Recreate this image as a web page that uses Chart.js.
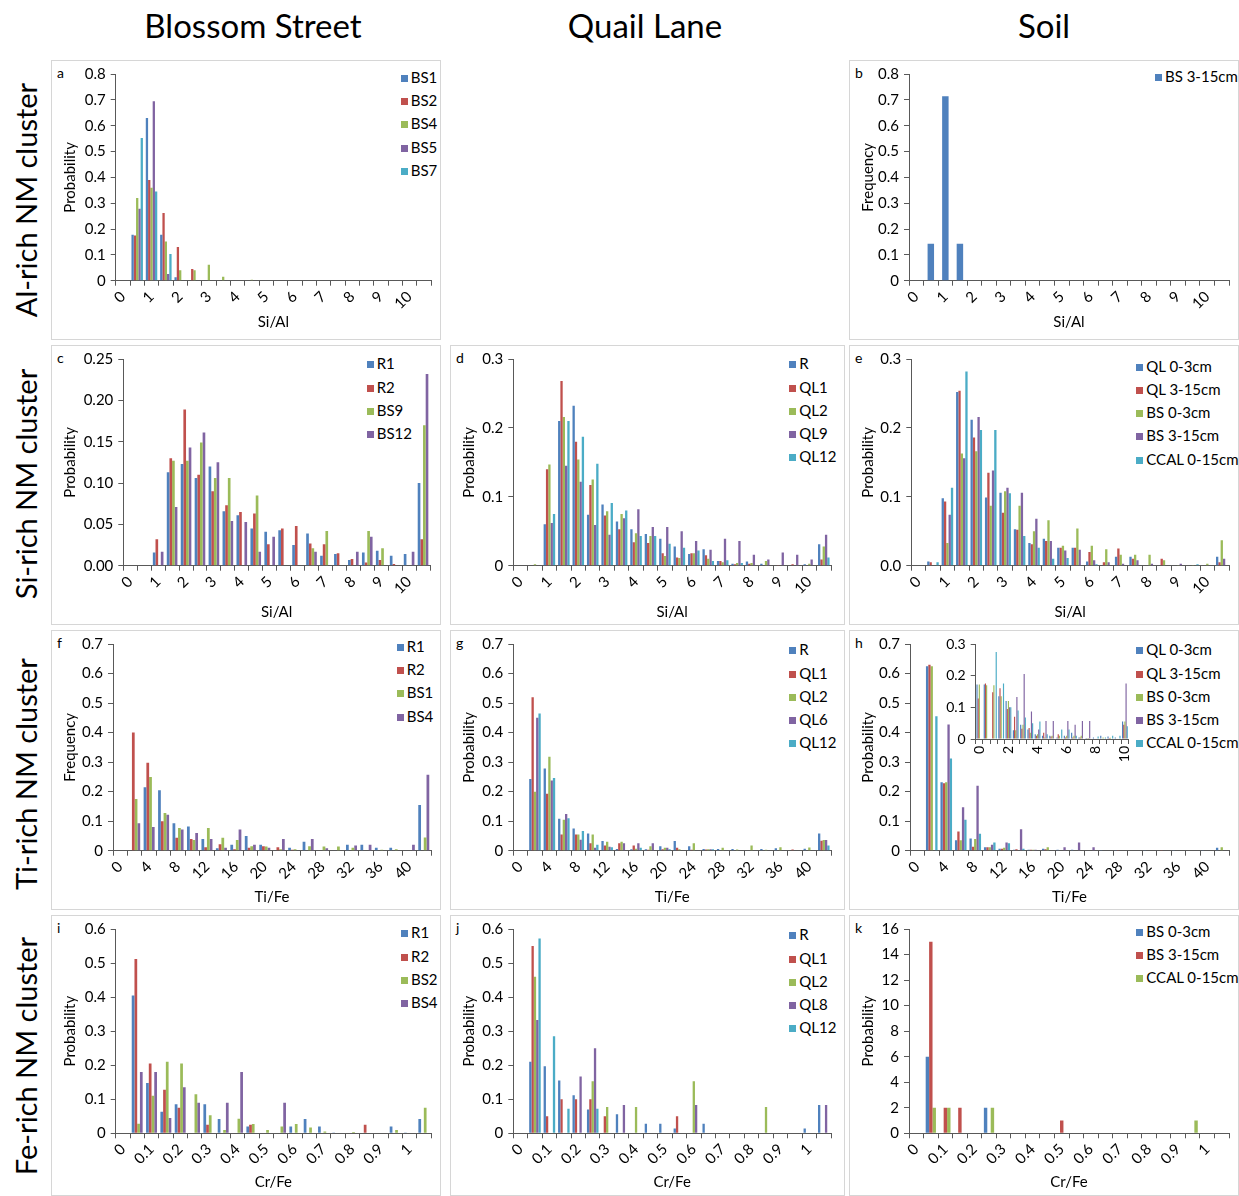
<!DOCTYPE html>
<html>
<head>
<meta charset="utf-8">
<script src="https://cdn.jsdelivr.net/npm/chart.js@4.4.1/dist/chart.umd.min.js"></script>
<style>
body { margin: 0; background: #fff; font-family: Lato, sans-serif; color: #000; }
#page { position: relative; width: 1239px; height: 1196px; overflow: hidden; }
.col-title { position: absolute; top: 5px; font-size: 33px; transform: translateX(-50%); white-space: nowrap; }
.row-title { position: absolute; left: 25px; font-size: 29px; white-space: nowrap; transform: translate(-50%, -50%) rotate(-90deg); }
.panel { position: absolute; box-shadow: inset 0 0 0 1px #d6d6d6; }
.panel canvas { position: absolute; left: 0; top: 0; }
.letter { position: absolute; font-size: 14px; line-height: 16px; }
.leg { position: absolute; font-size: 15px; line-height: 16px; white-space: nowrap; }
.leg span { display: inline-block; width: 7px; height: 7px; margin-right: 3px; vertical-align: 1px; }
</style>
</head>
<body>
<div id="page">
  <div class="col-title" style="left:253px">Blossom Street</div>
  <div class="col-title" style="left:645px">Quail Lane</div>
  <div class="col-title" style="left:1044px">Soil</div>
  <div class="row-title" style="top:200px">Al-rich NM cluster</div>
  <div class="row-title" style="top:484px">Si-rich NM cluster</div>
  <div class="row-title" style="top:774px">Ti-rich NM cluster</div>
  <div class="row-title" style="top:1056px">Fe-rich NM cluster</div>
</div>
<script>
const COLORS = ['#4F81BD', '#C0504D', '#9BBB59', '#8064A2', '#4BACC6'];
const AXIS = '#595959';
const FONT = 'Lato';
const GAP = 1.25; // excel gap width

// category labels
const siAlCats = ['0','0.5','1','1.5','2','2.5','3','3.5','4','4.5','5','5.5','6','6.5','7','7.5','8','8.5','9','9.5','10','10.5'];
const tiFeCats = ['0','2','4','6','8','10','12','14','16','18','20','22','24','26','28','30','32','34','36','38','40','42'];
const crFeCats = ['0','0.05','0.1','0.15','0.2','0.25','0.3','0.35','0.4','0.45','0.5','0.55','0.6','0.65','0.7','0.75','0.8','0.85','0.9','0.95','1','1.05'];
const insetCats = ['0','0.5','1','1.5','2','2.5','3','3.5','4','4.5','5','5.5','6','6.5','7','7.5','8','8.5','9','9.5','10'];

// a - Al-rich, Blossom Street
const aNames = ['BS1', 'BS2', 'BS4', 'BS5', 'BS7'];
const aBS1 = [0,.178,.63,.178,.013,0,0,0,0,0,0,0,0,0,0,0,0,0,0,0,0,0];
const aBS2 = [0,.175,.39,.262,.13,.045,0,0,0,0,0,0,0,0,0,0,0,0,0,0,0,0];
const aBS4 = [0,.32,.36,.152,.04,.04,.062,.015,0,.004,0,0,0,0,0,0,0,0,0,0,0,0];
const aBS5 = [0,.278,.695,.026,0,0,0,0,0,0,0,0,0,0,0,0,0,0,0,0,0,0];
const aBS7 = [0,.552,.345,.103,0,0,0,0,0,0,0,0,0,0,0,0,0,0,0,0,0,0];

// b - Al-rich, soil
const bNames = ['BS 3-15cm'];
const bBS315 = [0,.143,.714,.143,0,0,0,0,0,0,0,0,0,0,0,0,0,0,0,0,0,0];

// c - Si-rich, Blossom Street
const cNames = ['R1', 'R2', 'BS9', 'BS12'];
const cR1 = [0,0,.016,.113,.123,.106,.12,.066,.061,.045,.041,.043,.025,.039,.012,.014,.007,.016,.018,.012,.014,.10];
const cR2 = [0,0,.032,.13,.189,.11,.09,.073,.065,.063,.026,.045,.048,.027,.026,.015,.008,.004,.007,.002,0,.032];
const cBS9 = [0,0,0,.127,.127,.149,.106,.106,0,.085,0,0,0,.021,.042,0,0,.042,.021,0,0,.17];
const cBS12 = [0,0,.017,.071,.143,.161,.125,.054,.053,.017,.035,0,0,.017,0,0,.017,.035,0,0,.017,.232];

// d - Si-rich, Quail Lane
const dNames = ['R', 'QL1', 'QL2', 'QL9', 'QL12'];
const dR = [0,0,.06,.21,.232,.074,.089,.064,.053,.046,.039,.028,.017,.024,.007,.003,.006,.003,0,0,.002,.031];
const dQL1 = [0,0,.14,.268,.18,.117,.073,.053,.034,.033,.018,.012,.018,.015,.007,.002,.003,0,.001,.002,0,.009];
const dQL2 = [0,.002,.147,.216,.154,.125,.079,.075,.047,.043,.014,.011,.018,.01,.005,.004,.004,.007,0,0,.003,.028];
const dQL9 = [0,0,.062,.145,.122,.059,.045,.069,.082,.056,.056,.05,.036,.023,.039,.036,.016,.009,.019,.016,.009,.045];
const dQL12 = [0,0,.075,.21,.187,.148,.091,.08,.043,.043,.032,.026,.022,.007,.008,.004,0,0,0,0,0,.012];

// e - Si-rich, soil
const soilNames = ['QL 0-3cm', 'QL 3-15cm', 'BS 0-3cm', 'BS 3-15cm', 'CCAL 0-15cm'];
const eQL03 = [0,.006,.098,.252,.212,.099,.106,.053,.033,.039,.026,.026,.006,0,.013,.013,0,0,0,0,0,.013];
const eQL315 = [0,.005,.093,.254,.186,.135,.077,.052,.031,.036,.026,.026,.02,.005,.025,.01,0,.01,0,0,0,.005];
const eBS03 = [0,0,.033,.163,.166,.087,.108,.087,.05,.066,.029,.054,.029,.024,.016,.016,.016,.008,.001,.001,.003,.037];
const eBS315 = [0,0,.074,.156,.216,.138,.113,.106,.068,.036,.022,.023,.008,.005,.003,.008,.003,0,.003,0,0,.01];
const eCCAL = [0,.005,.113,.282,.197,.197,.105,.043,.026,.01,.011,0,.002,0,0,0,0,0,0,.002,0,0];

// f - Ti-rich, Blossom Street
const fNames = ['R1', 'R2', 'BS1', 'BS4'];
const fR1 = [0,0,.215,.205,.093,.082,.04,.008,.02,.05,.02,0,.01,.03,0,0,.02,.02,.01,.01,0,.155];
const fR2 = [0,.40,.298,.10,.044,.04,.012,.022,.005,.01,.015,.012,.003,0,0,0,0,0,0,0,0,0];
const fBS1 = [0,.175,.25,.128,.077,.036,.077,.044,.036,.015,.014,.005,.005,.015,.014,.014,.01,0,.003,.005,0,.045];
const fBS4 = [0,.093,.08,.122,.072,.06,.04,.01,.072,.02,.01,.04,0,.04,.008,0,.018,.02,0,0,.02,.257];

// g - Ti-rich, Quail Lane
const gNames = ['R', 'QL1', 'QL2', 'QL6', 'QL12'];
const gR = [0,.243,.278,.108,.075,.058,.033,.006,.005,.005,.015,.033,.015,.006,.006,.006,0,.006,.008,0,.007,.058];
const gQL1 = [0,.52,.193,.055,.055,.025,.018,.025,.018,.003,.005,.01,.003,.004,0,0,0,0,0,.004,0,.034];
const gQL2 = [0,.2,.318,.105,.055,.055,.03,.03,.007,.015,.01,.005,.025,.005,.01,.004,.018,.003,.012,0,.011,.036];
const gQL6 = [0,.45,.238,.124,.037,.01,.013,.025,.025,.025,.01,0,0,.005,0,0,0,0,0,0,0,.036];
const gQL12 = [0,.465,.246,.11,.067,.02,.012,0,.01,0,.005,0,0,.005,0,0,0,0,0,0,0,.018];

// h - Ti-rich, soil
const hQL03 = [0,.625,.232,.035,.041,.012,.007,.003,.003,.007,.003,.003,0,.001,.001,0,.001,0,.001,0,.001,.01];
const hQL315 = [0,.63,.228,.065,.013,.012,.007,.005,.003,.005,0,0,0,0,.001,0,0,.001,0,0,0,0];
const hBS03 = [0,.625,.232,.035,.04,.012,.01,0,.003,.012,0,0,0,0,0,0,0,0,0,0,0,.012];
const hBS315 = [0,0,.427,.147,.22,.02,.028,.073,.003,0,.012,.028,.012,0,0,0,0,0,0,0,0,0];
const hCCAL = [0,.455,.312,.105,.057,.028,.025,.007,0,0,0,0,0,0,0,0,0,0,0,0,0,0];

// h inset (Ti/Fe 0-10)
const hiQL03 = [.172,.172,0,.135,.12,.028,.045,.03,.015,.01,.01,.005,.01,.02,.005,.003,.005,.01,.008,.005,.055];
const hiQL315 = [.128,.175,.148,.16,.095,.07,.032,.035,.01,.02,.008,.015,.005,.005,.005,.002,0,0,.003,0,.045];
const hiBS03 = [.172,.17,.17,.135,.12,.028,.045,.02,.015,.005,.01,.01,.01,.01,.01,.003,0,.005,.004,0,.055];
const hiBS315 = [0,0,0,0,.1,.133,.205,.087,.03,.057,.057,0,.057,.045,.057,.057,0,0,0,0,.175];
const hiCCAL = [0,0,.275,.175,.10,.09,.068,.05,.055,.015,0,.03,.03,.01,0,0,.008,.005,.01,.01,.04];

// i - Fe-rich, Blossom Street
const iNames = ['R1', 'R2', 'BS2', 'BS4'];
const iR1 = [0,.405,.148,.063,.085,0,.085,.042,0,.02,0,0,.02,.042,.02,.002,0,0,0,.02,.002,.042];
const iR2 = [0,.512,.205,.128,.075,0,.025,0,0,.025,0,0,0,0,0,0,0,.025,0,0,0,0];
const iBS2 = [0,.028,.11,.21,.205,.115,.053,.01,.043,.027,.01,.02,.027,.017,.005,0,.004,0,0,.01,0,.075];
const iBS4 = [0,.18,.18,.045,.135,.09,0,.09,.18,0,0,.09,0,0,0,0,0,0,0,0,0,0];

// j - Fe-rich, Quail Lane
const jNames = ['R', 'QL1', 'QL2', 'QL8', 'QL12'];
const jR = [0,.21,.197,.155,.112,.07,0,.056,0,.028,.028,.014,0,.028,0,0,0,0,0,0,.014,.083];
const jQL1 = [0,.55,.05,.1,.1,.1,.05,0,0,0,0,.05,0,0,0,0,0,0,0,0,0,0];
const jQL2 = [0,.46,0,0,0,.153,.077,0,.077,0,0,0,.153,0,0,0,0,.077,0,0,0,0];
const jQL8 = [0,.333,0,0,.167,.25,0,.083,0,0,0,0,.083,0,0,0,0,0,0,0,0,.083];
const jQL12 = [0,.572,.285,.072,0,.072,0,0,0,0,0,0,0,0,0,0,0,0,0,0,0,0];

// k - Fe-rich, soil
const kNames = ['BS 0-3cm', 'BS 3-15cm', 'CCAL 0-15cm'];
const kBS03 = [0,6,0,0,0,2,0,0,0,0,0,0,0,0,0,0,0,0,0,0,0,0];
const kBS315 = [0,15,2,2,0,0,0,0,0,0,1,0,0,0,0,0,0,0,0,0,0,0];
const kCCAL = [0,2,2,0,0,2,0,0,0,0,0,0,0,0,0,0,0,0,0,1,0,0];

function fmt(v, dec) {
    if (dec === 'int') return String(Math.round(v));
    if (dec === 'auto') return Math.abs(v) < 1e-9 ? '0' : v.toFixed(1);
    return v.toFixed(dec);
}

function makeChart(canvas, p) {
    const n = p.series.length;
    const tickFont = { family: FONT, size: p.fontSize || 15 };
    return new Chart(canvas, {
        type: 'bar',
        data: {
            labels: p.cats,
            datasets: p.series.map((vals, i) => ({
                label: p.names ? p.names[i] : String(i),
                data: vals,
                backgroundColor: COLORS[i],
                borderWidth: 0,
                categoryPercentage: n / (n + GAP),
                barPercentage: 1
            }))
        },
        options: {
            responsive: false,
            animation: false,
            devicePixelRatio: 1,
            layout: { padding: { left: 0, top: p.top, right: p.w - p.right, bottom: 0 } },
            plugins: { legend: { display: false }, tooltip: { enabled: false } },
            scales: {
                x: {
                    offset: true,
                    grid: { display: true, drawOnChartArea: false, offset: true, tickLength: 5, color: AXIS },
                    border: { color: AXIS },
                    ticks: {
                        autoSkip: false, maxRotation: p.rot, minRotation: p.rot, padding: 2,
                        color: '#000', font: tickFont,
                        callback: (v, i) => i % p.every === 0 ? p.cats[i] : ''
                    },
                    title: {
                        display: !!p.xTitle, text: p.xTitle, color: '#000',
                        font: { family: FONT, size: 15 }, padding: { top: 0, bottom: p.h - p.titleY - 9 }
                    },
                    afterFit: s => { s.height = p.h - p.bot; }
                },
                y: {
                    min: 0, max: p.yMax,
                    grid: { display: true, drawOnChartArea: false, tickLength: 5, color: AXIS },
                    border: { color: AXIS },
                    ticks: {
                        stepSize: p.step, padding: 5, color: '#000', font: tickFont,
                        callback: v => fmt(v, p.dec)
                    },
                    title: {
                        display: !!p.yTitle, text: p.yTitle, color: '#000',
                        font: { family: FONT, size: 15 }, padding: { top: 10, bottom: 0 }
                    },
                    afterFit: s => { s.width = p.ax; }
                }
            }
        }
    });
}

function panel(p) {
    const page = document.getElementById('page');
    const box = document.createElement('div');
    box.className = 'panel';
    box.style.left = p.x + 'px';
    box.style.top = p.y + 'px';
    box.style.width = p.w + 'px';
    box.style.height = p.h + 'px';
    page.appendChild(box);

    const letter = document.createElement('div');
    letter.className = 'letter';
    letter.style.left = '6px';
    letter.style.top = '5px';
    letter.textContent = p.letter;
    box.appendChild(letter);

    p.names.forEach((name, i) => {
        const it = document.createElement('div');
        it.className = 'leg';
        it.style.left = p.legX + 'px';
        it.style.top = (p.legY + i * 23.2 - 8) + 'px';
        it.innerHTML = '<span style="background:' + COLORS[i] + '"></span>' + name;
        box.appendChild(it);
    });

    const cv = document.createElement('canvas');
    cv.width = p.w;
    cv.height = p.h;
    box.appendChild(cv);
    makeChart(cv, Object.assign({ rot: 45, every: 2 }, p));
    return box;
}

const row1 = { h: 280, top: 14, bot: 220.7, titleY: 261.7 };
const row2 = { h: 280, top: 14, bot: 220.7, titleY: 266.7 };
const row3 = { h: 280, top: 14, bot: 220.7, titleY: 266.7 };
const row4 = { h: 281, top: 14, bot: 218.3, titleY: 266.7 };

panel(Object.assign({}, row1, {
    x: 51, y: 60, w: 390, ax: 64.7, right: 380, letter: 'a',
    cats: siAlCats, names: aNames, series: [aBS1, aBS2, aBS4, aBS5, aBS7],
    yMax: 0.8, step: 0.1, dec: 'auto', yTitle: 'Probability', xTitle: 'Si/Al', legX: 349.7, legY: 17
}));
panel(Object.assign({}, row1, {
    x: 849, y: 60, w: 390, ax: 60, right: 380, letter: 'b',
    cats: siAlCats, names: bNames, series: [bBS315],
    yMax: 0.8, step: 0.1, dec: 'auto', yTitle: 'Frequency', xTitle: 'Si/Al', legX: 306, legY: 15.7
}));
panel(Object.assign({}, row2, {
    x: 51, y: 345, w: 390, ax: 72.3, right: 379, letter: 'c',
    cats: siAlCats, names: cNames, series: [cR1, cR2, cBS9, cBS12],
    yMax: 0.25, step: 0.05, dec: 2, yTitle: 'Probability', xTitle: 'Si/Al', legX: 315.7, legY: 18.3
}));
panel(Object.assign({}, row2, {
    x: 450, y: 345, w: 395, ax: 63.3, right: 381, letter: 'd',
    cats: siAlCats, names: dNames, series: [dR, dQL1, dQL2, dQL9, dQL12],
    yMax: 0.3, step: 0.1, dec: 'auto', yTitle: 'Probability', xTitle: 'Si/Al', legX: 339.3, legY: 18.3
}));
panel(Object.assign({}, row2, {
    x: 849, y: 345, w: 390, ax: 62.3, right: 380, letter: 'e',
    cats: siAlCats, names: soilNames, series: [eQL03, eQL315, eBS03, eBS315, eCCAL],
    yMax: 0.3, step: 0.1, dec: 1, yTitle: 'Probability', xTitle: 'Si/Al', legX: 287.3, legY: 20.7
}));
panel(Object.assign({}, row3, {
    x: 51, y: 630, w: 390, ax: 62, right: 380, letter: 'f',
    cats: tiFeCats, names: fNames, series: [fR1, fR2, fBS1, fBS4],
    yMax: 0.7, step: 0.1, dec: 'auto', yTitle: 'Frequency', xTitle: 'Ti/Fe', legX: 345.7, legY: 16
}));
panel(Object.assign({}, row3, {
    x: 450, y: 630, w: 395, ax: 63.3, right: 381, letter: 'g',
    cats: tiFeCats, names: gNames, series: [gR, gQL1, gQL2, gQL6, gQL12],
    yMax: 0.7, step: 0.1, dec: 'auto', yTitle: 'Probability', xTitle: 'Ti/Fe', legX: 339.3, legY: 19.3
}));
const hBox = panel(Object.assign({}, row3, {
    x: 849, y: 630, w: 390, ax: 61, right: 380, letter: 'h',
    cats: tiFeCats, names: soilNames, series: [hQL03, hQL315, hBS03, hBS315, hCCAL],
    yMax: 0.7, step: 0.1, dec: 'auto', yTitle: 'Probability', xTitle: 'Ti/Fe', legX: 287.3, legY: 19.3
}));
panel(Object.assign({}, row4, {
    x: 51, y: 915, w: 390, ax: 64.7, right: 380, letter: 'i',
    cats: crFeCats, names: iNames, series: [iR1, iR2, iBS2, iBS4],
    yMax: 0.6, step: 0.1, dec: 'auto', yTitle: 'Probability', xTitle: 'Cr/Fe', legX: 350, legY: 17.3
}));
panel(Object.assign({}, row4, {
    x: 450, y: 915, w: 395, ax: 63.3, right: 381, letter: 'j',
    cats: crFeCats, names: jNames, series: [jR, jQL1, jQL2, jQL8, jQL12],
    yMax: 0.6, step: 0.1, dec: 'auto', yTitle: 'Probability', xTitle: 'Cr/Fe', legX: 339.3, legY: 19.3
}));
panel(Object.assign({}, row4, {
    x: 849, y: 915, w: 390, ax: 60, right: 380, letter: 'k',
    cats: crFeCats, names: kNames, series: [kBS03, kBS315, kCCAL],
    yMax: 16, step: 2, dec: 'int', yTitle: 'Probability', xTitle: 'Cr/Fe', legX: 287.3, legY: 16
}));

// inset inside panel h
const inset = document.createElement('canvas');
inset.width = 215;
inset.height = 145;
inset.style.left = '80px';
inset.style.top = '0px';
hBox.appendChild(inset);
makeChart(inset, {
    w: 215, h: 145, ax: 46.7, top: 14, bot: 109, right: 203, titleY: 140,
    cats: insetCats, series: [hiQL03, hiQL315, hiBS03, hiBS315, hiCCAL],
    yMax: 0.3, step: 0.1, dec: 'auto', rot: 90, every: 4, fontSize: 14
});
</script>
</body>
</html>
